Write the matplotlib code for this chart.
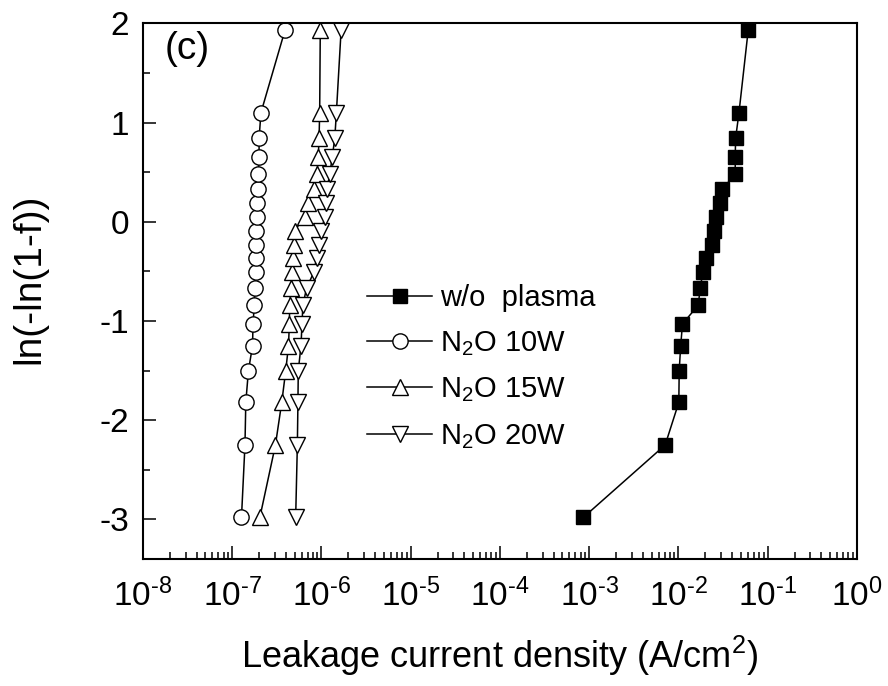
import matplotlib
matplotlib.use('Agg')
import matplotlib.pyplot as plt
from matplotlib.ticker import LogLocator, MultipleLocator, FuncFormatter
import numpy as np

plt.rcParams['font.family'] = ['Liberation Sans', 'DejaVu Sans']
plt.rcParams['mathtext.fontset'] = 'custom'
plt.rcParams['mathtext.rm'] = 'Liberation Sans'
plt.rcParams['mathtext.it'] = 'Liberation Sans:italic'
plt.rcParams['mathtext.bf'] = 'Liberation Sans:bold'
plt.rcParams['axes.unicode_minus'] = False

# shared Weibull y positions, ln(-ln(1-f))
weibull = [-2.98, -2.25, -1.82, -1.50, -1.25, -1.03, -0.84, -0.67, -0.51, -0.37,
           -0.23, -0.09, 0.05, 0.19, 0.33, 0.48, 0.65, 0.84, 1.10, 1.93]

j_no_plasma = [8.6e-4, 7.1e-3, 1.01e-2, 1.02e-2, 1.06e-2, 1.11e-2, 1.67e-2, 1.75e-2, 1.88e-2, 2.02e-2,
               2.39e-2, 2.50e-2, 2.61e-2, 2.95e-2, 3.10e-2, 4.33e-2, 4.33e-2, 4.37e-2, 4.77e-2, 6.05e-2]
j_10w = [1.27e-7, 1.39e-7, 1.42e-7, 1.52e-7, 1.69e-7, 1.71e-7, 1.77e-7, 1.79e-7, 1.83e-7, 1.85e-7,
         1.86e-7, 1.87e-7, 1.88e-7, 1.90e-7, 1.93e-7, 1.96e-7, 2.00e-7, 2.00e-7, 2.10e-7, 3.90e-7]
j_15w = [2.04e-7, 3.05e-7, 3.59e-7, 3.98e-7, 4.27e-7, 4.37e-7, 4.40e-7, 4.56e-7, 4.72e-7, 4.80e-7,
         4.89e-7, 5.00e-7, 6.49e-7, 7.06e-7, 8.18e-7, 8.90e-7, 9.20e-7, 9.40e-7, 9.55e-7, 9.70e-7]
j_20w = [5.14e-7, 5.37e-7, 5.45e-7, 5.50e-7, 5.90e-7, 6.05e-7, 6.20e-7, 6.80e-7, 8.20e-7, 8.80e-7,
         9.40e-7, 9.97e-7, 1.09e-6, 1.11e-6, 1.15e-6, 1.24e-6, 1.32e-6, 1.41e-6, 1.47e-6, 1.66e-6]

labels = ['w/o  plasma', 'N$_2$O 10W', 'N$_2$O 15W', 'N$_2$O 20W']


def decade_label(v, pos):
    e = int(round(np.log10(v)))
    if e < 0:
        return r'$\mathdefault{10^{\text{-}%d}}$' % (-e)
    return r'$\mathdefault{10^{%d}}$' % e


fig = plt.figure(figsize=(8.88, 6.86), dpi=100)
ax = fig.add_axes([0.161, 0.185, 0.804, 0.781])

lw = 1.1
ax.plot(j_no_plasma, weibull, c='black', lw=lw, marker='s', ms=10, mfc='black', mec='black', label=labels[0])
ax.plot(j_10w, weibull, c='black', lw=lw, marker='o', ms=11, mfc='white', mec='black', mew=1.0, label=labels[1])
ax.plot(j_15w, weibull, c='black', lw=lw, marker='^', ms=12, mfc='white', mec='black', mew=1.0, label=labels[2])
ax.plot(j_20w, weibull, c='black', lw=lw, marker='v', ms=12, mfc='white', mec='black', mew=1.0, label=labels[3])

ax.set_xscale('log')
ax.set_xlim(1e-8, 1e0)
ax.set_ylim(-3.4, 2.0)

ax.xaxis.set_major_locator(LogLocator(base=10, numticks=20))
ax.xaxis.set_minor_locator(LogLocator(base=10, subs=range(2, 10), numticks=100))
ax.xaxis.set_major_formatter(FuncFormatter(decade_label))
ax.yaxis.set_major_locator(MultipleLocator(1))
ax.yaxis.set_minor_locator(MultipleLocator(0.5))

for s in ax.spines.values():
    s.set_linewidth(1.5)
ax.tick_params(which='both', direction='in', top=False, right=False, width=1.1)
ax.tick_params(which='major', length=9.5, labelsize=24)
ax.tick_params(which='minor', length=5)
ax.tick_params(axis='x', which='major', pad=14)
ax.tick_params(axis='y', which='major', pad=10)

ax.set_xlabel('Leakage current density (A/cm$^2$)', fontsize=26, labelpad=15)
ax.set_ylabel('ln(-ln(1-f))', fontsize=28)
ax.yaxis.set_label_coords(-0.134, 0.524)

ax.text(0.031, 0.953, '(c)', transform=ax.transAxes, fontsize=28, ha='left', va='center')

ax.legend(loc='center left', bbox_to_anchor=(0.314, 0.358), frameon=False, fontsize=21,
          handlelength=2.23, handletextpad=0.28, labelspacing=0.6, borderpad=0, borderaxespad=0)

fig.savefig('out.png', dpi=100)
